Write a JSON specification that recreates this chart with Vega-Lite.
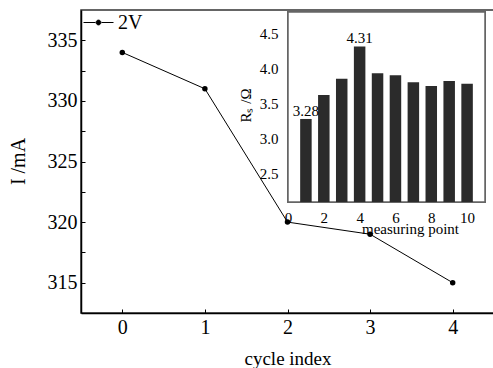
{
  "$schema": "https://vega.github.io/schema/vega-lite/v6.json",
  "width": 413,
  "height": 303,
  "autosize": "none",
  "padding": {"left": 81, "top": 10, "right": 0, "bottom": 55},
  "background": "white",
  "config": {
    "font": "Liberation Serif",
    "view": {"stroke": "#333", "strokeWidth": 1.5},
    "axis": {"grid": false, "labelColor": "black", "titleColor": "black", "titleFontWeight": "normal", "labelOverlap": false, "labelFlush": false}
  },
  "layer": [
    {
      "data": {"values": [
        {"cycle": 0, "current": 334, "series": "2V"},
        {"cycle": 1, "current": 331, "series": "2V"},
        {"cycle": 2, "current": 320, "series": "2V"},
        {"cycle": 3, "current": 319, "series": "2V"},
        {"cycle": 4, "current": 315, "series": "2V"}
      ]},
      "encoding": {
        "x": {"field": "cycle", "type": "quantitative",
          "scale": {"domain": [-0.5, 4.5], "nice": false, "zero": false},
          "axis": {"title": "cycle index", "values": [0, 1, 2, 3, 4], "format": "d", "tickSize": -4, "tickColor": "black",
            "domainColor": "black", "domainWidth": 1.5, "labelFontSize": 20, "labelPadding": 8,
            "titleFontSize": 19, "titleY": 51, "titleBaseline": "alphabetic"}},
        "y": {"field": "current", "type": "quantitative",
          "scale": {"domain": [312.5, 337.5], "nice": false, "zero": false},
          "axis": {"title": "I /mA", "values": [315, 317.5, 320, 322.5, 325, 327.5, 330, 332.5, 335],
            "labelExpr": "datum.value % 5 === 0 ? datum.label : ''", "format": "d", "tickSize": -4, "tickColor": "black",
            "domainColor": "black", "domainWidth": 1.5, "labelFontSize": 20, "labelPadding": 8,
            "titleFontSize": 20, "titleX": -63, "titleY": 151, "titleBaseline": "middle", "titleAngle": -90}},
        "color": {"field": "series", "type": "nominal", "scale": {"range": ["black"]},
          "legend": {"orient": "none", "legendX": 2, "legendY": -3, "title": null,
            "symbolType": "M-1,0L-0.2,0M0.2,0L1,0M-0.16,0A0.16,0.16,0,1,0,0.16,0A0.16,0.16,0,1,0,-0.16,0Z",
            "symbolSize": 900, "symbolStrokeWidth": 1, "symbolFillColor": "black", "symbolStrokeColor": "black",
            "labelFontSize": 20, "labelOffset": 4, "labelColor": "black", "padding": 0}}
      },
      "layer": [
        {"mark": {"type": "line", "strokeWidth": 1, "color": "#222"}},
        {"mark": {"type": "point", "filled": true, "size": 30, "opacity": 1}}
      ]
    },
    {
      "data": {"values": [
        {"point": 1, "r": 3.28, "label": "3.28"},
        {"point": 2, "r": 3.62, "label": ""},
        {"point": 3, "r": 3.85, "label": ""},
        {"point": 4, "r": 4.31, "label": "4.31"},
        {"point": 5, "r": 3.93, "label": ""},
        {"point": 6, "r": 3.90, "label": ""},
        {"point": 7, "r": 3.80, "label": ""},
        {"point": 8, "r": 3.75, "label": ""},
        {"point": 9, "r": 3.82, "label": ""},
        {"point": 10, "r": 3.78, "label": ""}
      ]},
      "layer": [
        {
          "mark": {"type": "rect", "fill": "white", "stroke": "#666", "strokeWidth": 1.5},
          "encoding": {
            "x": {"datum": 0, "type": "quantitative"},
            "x2": {"datum": 11},
            "y": {"datum": 2.1, "type": "quantitative"},
            "y2": {"datum": 4.8}
          }
        },
        {
          "mark": {"type": "bar", "width": 11.5, "color": "#2b2b2b"},
          "encoding": {
            "x": {"field": "point", "type": "quantitative",
              "scale": {"domain": [0, 11], "range": [202, 409], "nice": false, "zero": false},
              "axis": {"orient": "bottom", "offset": -111, "values": [0, 2, 4, 6, 8, 10], "format": "d", "domain": false, "ticks": false,
                "labelFontSize": 15, "labelPadding": 8, "title": "measuring point", "titleFontSize": 15,
                "titleX": 329, "titleY": 31, "titleBaseline": "alphabetic"}},
            "y": {"field": "r", "type": "quantitative",
              "scale": {"domain": [2.1, 4.8], "range": [192, 2], "nice": false, "zero": false},
              "axis": {"orient": "left", "offset": -202, "values": [2.5, 3, 3.5, 4, 4.5], "format": ".1f", "domain": false, "ticks": false,
                "labelFontSize": 15, "labelPadding": 5, "title": "Rₛ /Ω", "titleFontSize": 15,
                "titleX": -38, "titleY": 95, "titleAngle": -90, "titleBaseline": "middle"}},
            "y2": {"datum": 2.1}
          }
        },
        {
          "mark": {"type": "text", "fontSize": 15, "baseline": "alphabetic", "dy": -3, "color": "black"},
          "encoding": {
            "x": {"field": "point", "type": "quantitative"},
            "y": {"field": "r", "type": "quantitative"},
            "text": {"field": "label"}
          }
        }
      ]
    }
  ],
  "resolve": {
    "scale": {"x": "independent", "y": "independent", "color": "independent"},
    "axis": {"x": "independent", "y": "independent"}
  }
}
